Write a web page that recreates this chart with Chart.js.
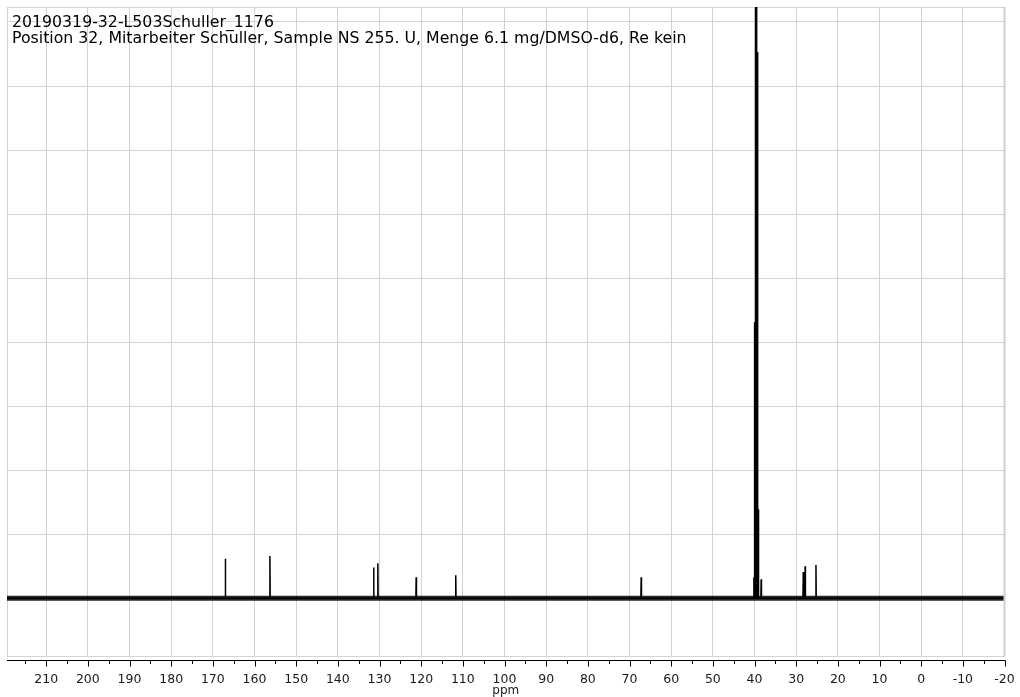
<!DOCTYPE html>
<html>
<head>
<meta charset="utf-8">
<script src="https://cdn.jsdelivr.net/npm/chart.js@4.4.1/dist/chart.umd.min.js"></script>
<style>
  html, body { margin: 0; padding: 0; background: #ffffff; }
  #wrap { width: 1020px; height: 697px; }
</style>
</head>
<body>
<div id="wrap"><canvas id="c" width="1020" height="697"></canvas></div>
<script>
// ---- data ----
const titleLines = [
  "20190319-32-L503Schuller_1176",
  "Position 32, Mitarbeiter Schuller, Sample NS 255. U, Menge 6.1 mg/DMSO-d6, Re kein"
];
const axisTitle = "ppm";
const ppmLeft = 219.4;   // left edge of the spectrum window
const ppmRight = -20;    // right edge
const tickValues = [210, 200, 190, 180, 170, 160, 150, 140, 130, 120, 110, 100, 90, 80, 70, 60, 50, 40, 30, 20, 10, 0, -10, -20];
const minorStep = 5;
// peak positions (ppm) and heights (baseline = 0, one unit = one horizontal grid interval)
const peakPpm    = [167.0, 156.3, 131.4, 130.4, 121.2, 111.7, 67.2, 40.15, 39.94, 39.73, 39.52, 39.31, 39.10, 38.40, 28.30, 27.85, 25.25];
const peakHeight = [0.62,  0.66,  0.48,  0.55,  0.33,  0.36,  0.33, 0.33,  4.31,  10.5,  13.5,  8.53,  1.39,  0.30,  0.41,  0.50,  0.52];
const baselineLevel = 0;
const yMin = -0.9;
const yMax = 9.234;

// ---- build datasets from the arrays ----
const halfWidth = 0.07;
const peakPoints = [{x: ppmLeft, y: baselineLevel}];
const order = peakPpm.map((p, i) => i).sort((a, b) => peakPpm[b] - peakPpm[a]);
order.forEach(i => {
  peakPoints.push({x: peakPpm[i] + halfWidth, y: baselineLevel});
  peakPoints.push({x: peakPpm[i], y: peakHeight[i]});
  peakPoints.push({x: peakPpm[i] - halfWidth, y: baselineLevel});
});
peakPoints.push({x: ppmRight, y: baselineLevel});
const baselinePoints = [{x: ppmLeft, y: baselineLevel}, {x: ppmRight, y: baselineLevel}];

const FONT = "'DejaVu Sans', Verdana, sans-serif";
const gridColor = '#d3d3d3';

const decor = {
  id: 'decor',
  afterDraw(chart) {
    const ctx = chart.ctx;
    const ca = chart.chartArea;
    const xs = chart.scales.x;
    const axisY = ca.bottom + 4.5;
    ctx.save();
    // right frame (slightly heavier in the reference)
    ctx.strokeStyle = '#cfcfcf';
    ctx.lineWidth = 2;
    ctx.beginPath();
    ctx.moveTo(ca.right, ca.top);
    ctx.lineTo(ca.right, ca.bottom);
    ctx.stroke();
    // black axis line with ticks
    ctx.strokeStyle = '#000';
    ctx.lineWidth = 1;
    ctx.beginPath();
    ctx.moveTo(ca.left, axisY);
    ctx.lineTo(ca.right + 1, axisY);
    ctx.stroke();
    for (let v = Math.ceil(ppmRight / minorStep) * minorStep; v <= ppmLeft; v += minorStep) {
      const px = Math.round(xs.getPixelForValue(v)) + 0.5;
      const isMajor = tickValues.includes(v);
      ctx.beginPath();
      ctx.moveTo(px, axisY);
      ctx.lineTo(px, axisY + (isMajor ? 6 : 3.5));
      ctx.stroke();
    }
    // title text inside the plot
    ctx.fillStyle = '#000';
    ctx.font = "15.75px " + FONT;
    ctx.textBaseline = 'alphabetic';
    ctx.textAlign = 'left';
    ctx.fillText(titleLines[0], 12, 26.5);
    ctx.fillText(titleLines[1], 12, 43.2);
    ctx.restore();
  }
};

new Chart(document.getElementById('c'), {
  type: 'line',
  data: {
    datasets: [
      {
        label: 'peaks',
        data: peakPoints,
        borderColor: '#000',
        borderWidth: 1.5,
        pointRadius: 0,
        tension: 0,
        fill: false
      },
      {
        label: 'baseline',
        data: baselinePoints,
        borderColor: 'rgba(0,0,0,0.85)',
        borderWidth: 5,
        pointRadius: 0,
        tension: 0,
        fill: false
      }
    ]
  },
  options: {
    responsive: false,
    animation: false,
    devicePixelRatio: 1,
    layout: { padding: { left: 7, right: 15.5, top: 7, bottom: 0 } },
    plugins: {
      legend: { display: false },
      tooltip: { enabled: false },
      title: { display: false }
    },
    scales: {
      x: {
        type: 'linear',
        reverse: true,
        min: ppmRight,
        max: ppmLeft,
        afterBuildTicks: s => { s.ticks = tickValues.map(v => ({value: v})); },
        afterFit: s => { s.height = 41; s.paddingLeft = 0; s.paddingRight = 0; },
        grid: { color: gridColor, lineWidth: 1, drawTicks: false },
        border: { display: true, color: gridColor },
        ticks: {
          padding: 16,
          color: '#1a1a1a',
          font: { family: FONT, size: 12.5 },
          maxRotation: 0,
          autoSkip: false,
          callback: v => String(v)
        },
        title: {
          display: true,
          text: axisTitle,
          color: '#1a1a1a',
          font: { family: FONT, size: 12, lineHeight: 1 },
          padding: { top: 0, bottom: 0 }
        }
      },
      y: {
        type: 'linear',
        min: yMin,
        max: yMax,
        afterFit: s => { s.width = 0; },
        grid: { color: gridColor, lineWidth: 1, drawTicks: false },
        border: { display: true, color: gridColor },
        ticks: { display: false, stepSize: 1 }
      }
    }
  },
  plugins: [decor]
});
</script>
</body>
</html>
